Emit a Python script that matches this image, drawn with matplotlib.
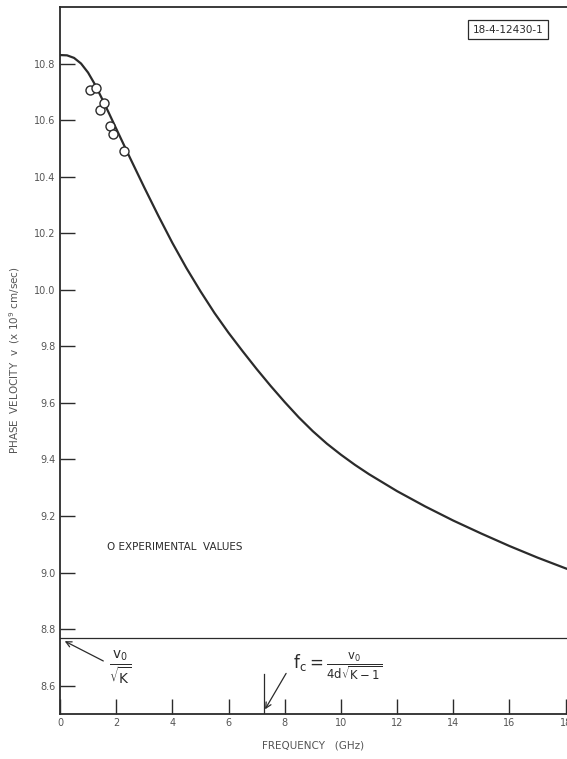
import matplotlib
matplotlib.use("Agg")
import matplotlib.pyplot as plt

plt.rcParams['mathtext.default'] = 'regular'

# curve (GHz, x10^9 cm/sec)
freq = [0, 0.25, 0.5, 0.75, 1.0, 1.25, 1.5, 1.75, 2.0, 2.5, 3.0, 3.5, 4.0, 4.5,
        5.0, 5.5, 6.0, 6.5, 7.0, 7.5, 8.0, 8.5, 9.0, 9.5, 10, 10.5, 11, 12, 13,
        14, 15, 16, 17, 18, 18.2]
vel = [10.830, 10.829, 10.820, 10.800, 10.768, 10.725, 10.675, 10.623, 10.570,
       10.465, 10.362, 10.262, 10.166, 10.077, 9.995, 9.918, 9.848, 9.783,
       9.720, 9.660, 9.603, 9.549, 9.500, 9.456, 9.417, 9.381, 9.348, 9.288,
       9.234, 9.184, 9.138, 9.094, 9.053, 9.015, 9.008]

# experimental points
exp_f = [1.07, 1.28, 1.42, 1.56, 1.78, 1.88, 2.27]
exp_v = [10.708, 10.712, 10.637, 10.662, 10.580, 10.550, 10.490]

v_asym = 8.77   # v0/sqrt(K)
f_cut = 7.25    # fc

xticks = list(range(0, 19, 2))
yticks = [8.6, 8.8, 9.0, 9.2, 9.4, 9.6, 9.8, 10.0, 10.2, 10.4, 10.6, 10.8]

ink = "#2b2b2b"
grey = "#555555"

fig = plt.figure(figsize=(5.67, 7.59), dpi=100)
ax = fig.add_axes([0.1058, 0.0593, 0.8942, 0.9315])

ax.plot(freq, vel, color=ink, lw=1.6)
ax.plot(exp_f, exp_v, 'o', mfc='white', mec=ink, ms=6.5, mew=1.0)
ax.axhline(v_asym, color=ink, lw=0.9)
ax.plot([f_cut, f_cut], [8.5, 8.64], color=ink, lw=0.9)

ax.set_xlim(0, 18.05)
ax.set_ylim(8.5, 11.0)
ax.set_xticks(xticks)
ax.set_yticks(yticks)
ax.set_yticklabels(["%.1f" % t for t in yticks])
ax.tick_params(direction='in', length=11, width=1.0, color=ink,
               labelsize=7, labelcolor=grey)
ax.tick_params(axis='y', pad=3)
ax.tick_params(axis='x', pad=3)
ax.spines['right'].set_visible(False)
for s in ['left', 'bottom', 'top']:
    ax.spines[s].set_color(ink)
    ax.spines[s].set_linewidth(1.3)

ax.set_xlabel("FREQUENCY   (GHz)", fontsize=7.5, color=grey, labelpad=9)
ax.set_ylabel(r"PHASE  VELOCITY  v  (x 10$^9$ cm/sec)", fontsize=7.5,
              color=grey, labelpad=9)

# annotations
ax.annotate("", xy=(0.08, 8.762), xytext=(1.63, 8.683),
            arrowprops=dict(arrowstyle='->', color=ink, lw=0.9))
ax.text(2.15, 8.665, r"$\frac{v_0}{\sqrt{K}}$", fontsize=14, color=ink,
        ha='center', va='center')
ax.annotate("", xy=(f_cut, 8.508), xytext=(8.1, 8.652),
            arrowprops=dict(arrowstyle='->', color=ink, lw=0.9))
ax.text(8.3, 8.668, r"$f_c = \frac{v_0}{4d\sqrt{K-1}}$", fontsize=12,
        color=ink, ha='left', va='center')

ax.text(1.67, 9.09, "O EXPERIMENTAL  VALUES", fontsize=7.5, color=ink,
        ha='left', va='center')
ax.text(15.95, 10.92, "18-4-12430-1", fontsize=7.5, color=ink,
        ha='center', va='center',
        bbox=dict(boxstyle='square,pad=0.4', fc='white', ec=ink, lw=0.9))

fig.savefig("out.png", dpi=100)
